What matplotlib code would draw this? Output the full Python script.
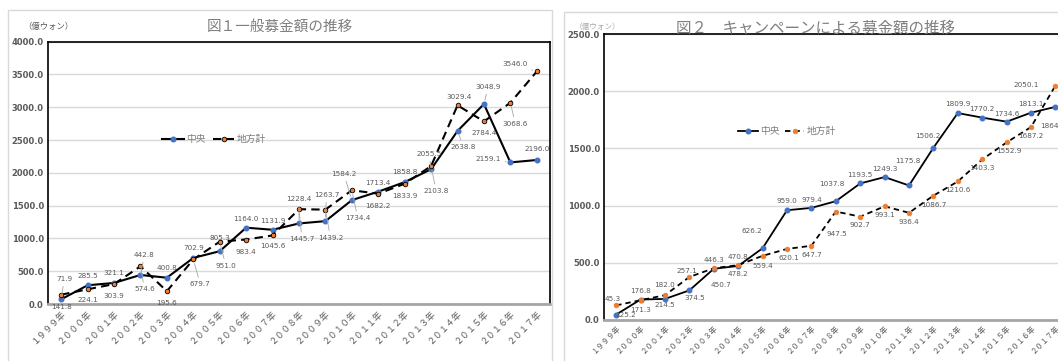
import matplotlib
matplotlib.use("Agg")
import matplotlib.pyplot as plt
from matplotlib.patches import Rectangle

plt.rcParams['font.family'] = ['Noto Sans CJK JP', 'DejaVu Sans']

# ---- data ----
years = list(range(1999, 2018))
fw = str.maketrans("0123456789", "０１２３４５６７８９")
year_labels = [(str(y) + "年").translate(fw) for y in years]

# 図1 一般募金額
gen_center = [71.9, 285.5, 321.1, 442.8, 400.8, 702.9, 805.3, 1164.0, 1131.9, 1228.4,
              1263.7, 1584.2, 1713.4, 1858.8, 2055.5, 2638.8, 3048.9, 2159.1, 2196.0]
gen_local = [141.8, 224.1, 303.9, 574.6, 195.6, 679.7, 951.0, 983.4, 1045.6, 1445.7,
             1439.2, 1734.4, 1682.2, 1833.9, 2103.8, 3029.4, 2784.4, 3068.6, 3546.0]

# 図2 キャンペーン募金額
camp_center = [45.3, 176.8, 182.0, 257.1, 446.3, 470.8, 626.2, 959.0, 979.4, 1037.8,
               1193.5, 1249.3, 1175.8, 1506.2, 1809.9, 1770.2, 1734.6, 1813.1, 1864.4]
camp_local = [125.2, 171.3, 214.5, 374.5, 450.7, 478.2, 559.4, 620.1, 647.7, 947.5,
              902.7, 993.1, 936.4, 1086.7, 1210.6, 1403.3, 1552.9, 1687.2, 2050.1]

# label offsets in pixels (dx, dy up positive)
off1_c = [(3, 20), (0, 9), (0, 10), (4, 20), (0, 10), (0, 10), (0, 13), (0, 9), (0, 9), (0, 24),
          (1, 26), (-8, 26), (0, 9), (0, 10), (-2, 15), (6, -16), (4, 17), (-22, 3), (0, 11)]
off1_l = [(0, -12), (0, -11), (0, -12), (4, -23), (0, -12), (7, -25), (6, -24), (0, -12), (0, -11), (3, -30),
          (5, -28), (6, -28), (0, -12), (0, -12), (5, -25), (2, 8), (0, -12), (5, -21), (-22, 7)]
off2_c = [(-4, 16), (0, 9), (0, 14), (-3, 19), (0, 9), (0, 9), (-11, 17), (0, 9), (0, 8), (-4, 17),
          (0, 8), (0, 8), (-1, 24), (-6, 12), (0, 9), (0, 9), (0, 8), (0, 9), (-3, -19)]
off2_l = [(9, -10), (0, -10), (0, -10), (5, -21), (7, -17), (0, -9), (0, -10), (2, -9), (0, -9), (1, -22),
          (0, -8), (0, -9), (0, -9), (0, -9), (0, -9), (0, -9), (2, -9), (0, -9), (-29, 1)]

BLUE = '#4472c4'
ORANGE = '#ed7d31'
TXT = '#595959'

fig = plt.figure(figsize=(10.58, 3.61), dpi=100)

# outer chart frames
fig.patches.append(Rectangle((8 / 1058, -0.1), 544 / 1058, 1.1 - 10 / 361, transform=fig.transFigure,
                             fill=False, ec='#d9d9d9', lw=1))
fig.patches.append(Rectangle((564 / 1058, -0.1), 0.5, 1.1 - 12 / 361, transform=fig.transFigure,
                             fill=False, ec='#d9d9d9', lw=1))


def draw(ax, center, local, oc, ol, ymax, lab_size, edge_local, leaders, lw, dash):
    x = list(range(len(years)))
    ax.plot(x, center, color='black', lw=lw, marker='o', ms=3.3, mfc=BLUE, mec=BLUE, label='中央', zorder=3)
    ax.plot(x, local, color='black', lw=lw, ls=(0, dash), marker='o', ms=3.3, mfc=ORANGE,
            mec='black' if edge_local else ORANGE, mew=0.6, label='地方計', zorder=3)
    ax.set_xlim(-0.5, len(years) - 0.5)
    ax.set_ylim(0, ymax)
    ax.set_yticks(range(0, ymax + 1, 500))
    ax.set_yticklabels([f"{v:.1f}" for v in range(0, ymax + 1, 500)], family='DejaVu Sans',
                       fontweight='bold', fontsize=6, color=TXT)
    ax.set_xticks(x)
    ax.set_xticklabels(year_labels, rotation=45, ha='right', rotation_mode='anchor',
                       fontsize=lab_size, color=TXT)
    ax.tick_params(length=0, pad=3)
    ax.grid(axis='y', color='#d9d9d9', lw=1)
    ax.set_axisbelow(True)
    for s in ['left', 'top', 'right']:
        ax.spines[s].set_color('black')
        ax.spines[s].set_linewidth(1.2)
    ax.spines['bottom'].set_color('#a6a6a6')
    ax.spines['bottom'].set_linewidth(2)
    for vals, offs in ((center, oc), (local, ol)):
        for i, (v, (dx, dy)) in enumerate(zip(vals, offs)):
            ap = None
            if leaders and (dx * dx + dy * dy) > 15 * 15:
                ap = dict(arrowstyle='-', color='#a6a6a6', lw=0.6, shrinkA=1, shrinkB=3)
            ax.annotate(f"{v:.1f}", (i, v), xytext=(dx, dy), textcoords='offset pixels',
                        ha='center', va='center', fontsize=5.2, color=TXT,
                        family='DejaVu Sans', arrowprops=ap, zorder=4)


ax1 = fig.add_axes([48 / 1058, 1 - 304 / 361, 502 / 1058, 262.3 / 361])
draw(ax1, gen_center, gen_local, off1_c, off1_l, 4000, 6.3, True, True, 1.5, (4, 2.5))
ax1.legend(loc='center', bbox_to_anchor=((214 - 48) / 502, (304 - 139) / 262.3), ncol=2, frameon=False,
           fontsize=7, labelcolor='#7f7f7f', handlelength=2.2, handletextpad=0.2, columnspacing=0.8,
           borderpad=0)

ax2 = fig.add_axes([604 / 1058, 1 - 319.7 / 361, 463.6 / 1058, 285.4 / 361])
draw(ax2, camp_center, camp_local, off2_c, off2_l, 2500, 5.3, False, False, 1.3, (3, 2.2))
ax2.legend(loc='center', bbox_to_anchor=((787 - 604) / 463.6, (319.7 - 131) / 285.4), ncol=2,
           frameon=False, fontsize=7, labelcolor='#7f7f7f', handlelength=2.0, handletextpad=0.2,
           columnspacing=0.6, borderpad=0)

# titles & units
fig.text(280 / 1058, 1 - 27 / 361, "図１一般募金額の推移", ha='center', va='center', fontsize=10.5, color='#7f7f7f')
fig.text(48 / 1058, 1 - 26 / 361, "（億ウォン）", ha='center', va='center', fontsize=6, color=TXT)
fig.text(815 / 1058, 1 - 28 / 361, "図２　キャンペーンによる募金額の推移", ha='center', va='center',
         fontsize=11.2, color='#7f7f7f')
fig.text(598 / 1058, 1 - 27 / 361, "（億ウォン）", ha='center', va='center', fontsize=5.5, color='#a6a6a6')

fig.savefig("out.png", dpi=100)
